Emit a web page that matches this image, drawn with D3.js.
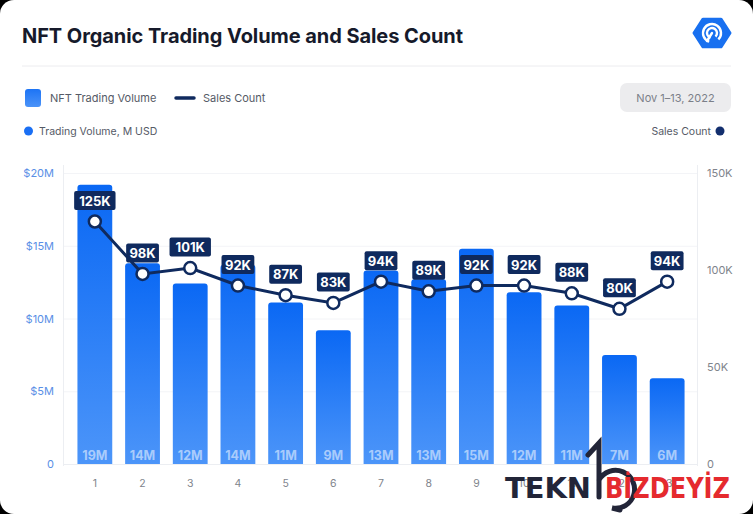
<!DOCTYPE html>
<html><head><meta charset="utf-8">
<script src="https://cdn.jsdelivr.net/npm/d3@7"></script>
<style>html,body{margin:0;padding:0;background:#000;}svg{display:block;}</style>
</head><body>
<svg id="c" width="753" height="514"></svg>
<script>
const days = ["1","2","3","4","5","6","7","8","9","10","11","12","13"];
const volume = [19.2, 13.8, 12.4, 13.7, 11.1, 9.2, 13.3, 12.7, 14.8, 11.8, 10.9, 7.5, 5.9];
const volumeLabels = ["19M","14M","12M","14M","11M","9M","13M","13M","15M","12M","11M","7M","6M"];
const sales = [125, 98, 101, 92, 87, 83, 94, 89, 92, 92, 88, 80, 94];
const leftTicks = [0, 5, 10, 15, 20];
const leftTickLabels = ["0", "$5M", "$10M", "$15M", "$20M"];
const rightTicks = [0, 50, 100, 150];
const rightTickLabels = ["0", "50K", "100K", "150K"];

const svg = d3.select("#c");
const F = "Inter, 'Open Sans', sans-serif";

// card
svg.append("rect").attr("x",0).attr("y",0).attr("width",753).attr("height",514).attr("rx",14).attr("fill","#fff");

// title
svg.append("text").attr("x",22).attr("y",43).attr("font-family",F).attr("font-weight",700)
  .attr("font-size",20).attr("fill","#161a2b").attr("textLength",441).attr("lengthAdjust","spacing")
  .text("NFT Organic Trading Volume and Sales Count");
svg.append("line").attr("x1",22).attr("x2",731).attr("y1",66).attr("y2",66).attr("stroke","#ececef").attr("stroke-width",1);

// logo hexagon
const lg = svg.append("g").attr("transform","translate(712,33)");
const hex = d3.range(6).map(i=>{const a=Math.PI/3*i; return [18*Math.cos(a), 16*Math.sin(a)];});
lg.append("path").attr("d", "M"+hex.map(p=>p.join(",")).join("L")+"Z").attr("fill","#1870f0").attr("stroke","#1870f0").attr("stroke-width",3).attr("stroke-linejoin","round");
[9,5].forEach(r=>lg.append("path").attr("d", d3.arc()({innerRadius:r-1.2,outerRadius:r+1.2,startAngle:-Math.PI*0.9,endAngle:Math.PI*0.75})).attr("fill","#fff"));
lg.append("line").attr("x1",0).attr("y1",0).attr("x2",-5).attr("y2",8).attr("stroke","#fff").attr("stroke-width",2.4).attr("stroke-linecap","round");

// legend
const gradId = "barGrad";
const defs = svg.append("defs");
const gr = defs.append("linearGradient").attr("id",gradId).attr("x1",0).attr("y1",0).attr("x2",0).attr("y2",1);
gr.append("stop").attr("offset","0%").attr("stop-color","#0a68f4");
gr.append("stop").attr("offset","100%").attr("stop-color","#4c95f9");
const grL = defs.append("linearGradient").attr("id","legGrad").attr("x1",0).attr("y1",0).attr("x2",0).attr("y2",1);
grL.append("stop").attr("offset","0%").attr("stop-color","#1d74f5");
grL.append("stop").attr("offset","100%").attr("stop-color","#4b93f8");

svg.append("rect").attr("x",25).attr("y",89).attr("width",16).attr("height",18).attr("rx",3).attr("fill","url(#legGrad)");
svg.append("text").attr("x",50).attr("y",102).attr("font-family",F).attr("font-size",11).attr("fill","#555a66").text("NFT Trading Volume");
svg.append("line").attr("x1",176).attr("x2",194).attr("y1",98).attr("y2",98).attr("stroke","#0f2a5e").attr("stroke-width",3.5).attr("stroke-linecap","round");
svg.append("text").attr("x",203).attr("y",102).attr("font-family",F).attr("font-size",11).attr("fill","#555a66").text("Sales Count");

svg.append("rect").attr("x",620).attr("y",83).attr("width",111).attr("height",29).attr("rx",7).attr("fill","#ececee");
svg.append("text").attr("x",675.5).attr("y",102).attr("text-anchor","middle").attr("font-family",F).attr("font-size",11).attr("fill","#7b7f88").text("Nov 1\u201313, 2022");

svg.append("circle").attr("cx",28.5).attr("cy",131).attr("r",4.5).attr("fill","#1a6ff4");
svg.append("text").attr("x",39).attr("y",135).attr("font-family",F).attr("font-size",10.5).attr("fill","#555a66").text("Trading Volume, M USD");
svg.append("text").attr("x",711).attr("y",135).attr("text-anchor","end").attr("font-family",F).attr("font-size",10.5).attr("fill","#555a66").text("Sales Count");
svg.append("circle").attr("cx",720).attr("cy",131).attr("r",4.5).attr("fill","#132f6e");

// scales
const x = d3.scaleBand().domain(days).range([71, 691]).paddingInner(0.27).paddingOuter(0.135);
const yL = d3.scaleLinear().domain([0,20]).range([464,173]);
const yR = d3.scaleLinear().domain([0,150]).range([464,173]);

// grid
svg.append("g").selectAll("line").data(leftTicks.slice(1)).join("line")
  .attr("x1",64).attr("x2",697).attr("y1",d=>yL(d)+0.5).attr("y2",d=>yL(d)+0.5).attr("stroke","#f3f4f7");
svg.append("line").attr("x1",63.5).attr("x2",63.5).attr("y1",165).attr("y2",466).attr("stroke","#eceef2");
svg.append("line").attr("x1",697.5).attr("x2",697.5).attr("y1",165).attr("y2",466).attr("stroke","#eceef2");
svg.append("line").attr("x1",64).attr("x2",697).attr("y1",464.5).attr("y2",464.5).attr("stroke","#eceef2");

// axes
const axL = d3.axisLeft(yL).tickValues(leftTicks).tickFormat((d,i)=>leftTickLabels[i]).tickSize(0).tickPadding(10);
const gL = svg.append("g").attr("transform","translate(64,0)").call(axL);
gL.select(".domain").remove();
gL.selectAll("text").attr("font-family",F).attr("font-size",11).attr("fill","#5a8fe6");

const axR = d3.axisRight(yR).tickValues(rightTicks).tickFormat((d,i)=>rightTickLabels[i]).tickSize(0).tickPadding(10);
const gR = svg.append("g").attr("transform","translate(697,0)").call(axR);
gR.select(".domain").remove();
gR.selectAll("text").attr("font-family",F).attr("font-size",11).attr("fill","#80848c");

const axB = d3.axisBottom(x).tickSize(0).tickPadding(14);
const gB = svg.append("g").attr("transform","translate(0,466)").call(axB);
gB.select(".domain").remove();
gB.selectAll("text").attr("font-family",F).attr("font-size",10.5).attr("fill","#80848c");

// bars
function topRounded(x0, y0, w, h, r){
  return `M${x0},${y0+h}V${y0+r}Q${x0},${y0} ${x0+r},${y0}H${x0+w-r}Q${x0+w},${y0} ${x0+w},${y0+r}V${y0+h}Z`;
}
svg.append("g").selectAll("path").data(volume).join("path")
  .attr("d",(d,i)=>topRounded(x(days[i]), yL(d), x.bandwidth(), yL(0)-yL(d), 3))
  .attr("fill","url(#"+gradId+")");
svg.append("g").selectAll("text").data(volumeLabels).join("text")
  .attr("x",(d,i)=>x(days[i])+x.bandwidth()/2).attr("y",460)
  .attr("text-anchor","middle").attr("font-family",F).attr("font-weight",700).attr("font-size",12.5)
  .attr("fill","#ffffff").attr("fill-opacity",0.55).text(d=>d);

// line
const cx = i=>x(days[i])+x.bandwidth()/2;
svg.append("path").datum(sales).attr("d", d3.line().x((d,i)=>cx(i)).y(d=>yR(d)))
  .attr("fill","none").attr("stroke","#0f2a5e").attr("stroke-width",3);
svg.append("g").selectAll("circle").data(sales).join("circle")
  .attr("cx",(d,i)=>cx(i)).attr("cy",d=>yR(d)).attr("r",6)
  .attr("fill","#fff").attr("stroke","#0f2a5e").attr("stroke-width",2.5);

const lab = svg.append("g").selectAll("g").data(sales).join("g")
  .attr("transform",(d,i)=>`translate(${cx(i)},${yR(d)-21})`);
lab.each(function(d){
  const g = d3.select(this);
  const t = d+"K";
  const w = t.length*8.6+7;
  g.append("rect").attr("x",-w/2).attr("y",-9.5).attr("width",w).attr("height",19).attr("rx",2).attr("fill","#0f2a5e");
  g.append("text").attr("y",5).attr("text-anchor","middle").attr("font-family",F).attr("font-weight",700)
    .attr("font-size",13).attr("fill","#fff").text(t);
});

// watermark
const wm = svg.append("g");
wm.append("text").attr("x",505).attr("y",498).attr("font-family","'DejaVu Sans', sans-serif").attr("font-weight",700)
  .attr("font-size",28).attr("fill","#222538").attr("textLength",86).attr("lengthAdjust","spacingAndGlyphs").text("TEKN");
wm.append("path").attr("d","M588,455 L599,443 L599,497 M599,480 A19,19 0 1 1 612,508 L620,510")
  .attr("fill","none").attr("stroke","#222538").attr("stroke-width",5).attr("stroke-linecap","round");
wm.append("text").attr("x",605).attr("y",498).attr("font-family","'DejaVu Sans', sans-serif").attr("font-weight",700)
  .attr("font-size",28).attr("fill","#e52a2e").attr("textLength",125).attr("lengthAdjust","spacingAndGlyphs").text("BİZDEYİZ");
</script>
</body></html>
